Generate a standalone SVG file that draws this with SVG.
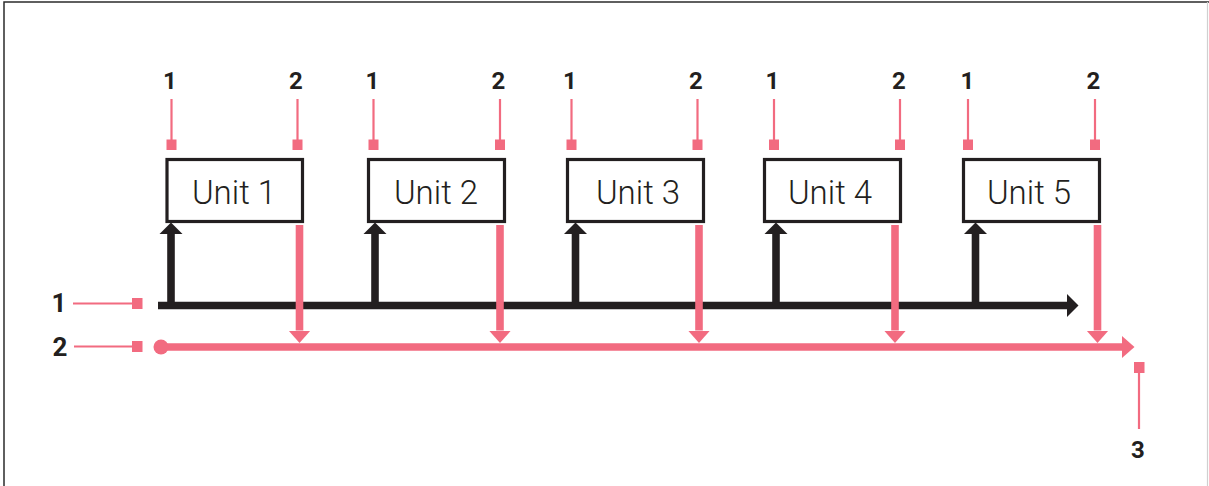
<svg xmlns="http://www.w3.org/2000/svg" width="1209" height="486" viewBox="0 0 1209 486">
<style>
.box{fill:#fff;stroke:#231f20;stroke-width:3.2}
.ut{font-family:Roboto,"Liberation Sans",sans-serif;font-weight:300;font-size:33px;fill:#231f20;text-anchor:middle}
.num{font-family:Roboto,"Liberation Sans",sans-serif;font-weight:700;font-size:24px;fill:#231f20;text-anchor:middle}
.lead{stroke:#f26b80;stroke-width:2.2;fill:none}
.sq{fill:#f26b80}
.blk{stroke:#231f20;stroke-width:7.6;fill:none}
.pk{stroke:#f26b80;stroke-width:7.6;fill:none}
.frame{stroke:#2b2b2b;stroke-width:1.5;fill:none}
</style>
<defs>
<marker id="ab" markerUnits="userSpaceOnUse" markerWidth="12" markerHeight="24" viewBox="0 0 12 24" refX="0" refY="12" orient="auto"><path d="M0,0.5 L11.5,12 L0,23.5 Z" fill="#231f20"/></marker>
<marker id="ap" markerUnits="userSpaceOnUse" markerWidth="13" markerHeight="24" viewBox="0 0 13 24" refX="0" refY="12" orient="auto"><path d="M0,1 L12.5,12 L0,23 Z" fill="#f26b80"/></marker>
</defs>
<g id="frame">
<path class="frame" d="M4,486 V2 H1209"/>
<path d="M1207.5,2 V486" stroke="#d0d0d0" stroke-width="1.2"/>
</g>
<g id="connectors">
<line class="blk" x1="158" y1="305.5" x2="1067" y2="305.5" marker-end="url(#ab)"/>
<line class="blk" x1="171" y1="305" x2="171" y2="234" marker-end="url(#ab)"/>
<line class="blk" x1="375" y1="305" x2="375" y2="234" marker-end="url(#ab)"/>
<line class="blk" x1="575.5" y1="305" x2="575.5" y2="234" marker-end="url(#ab)"/>
<line class="blk" x1="776" y1="305" x2="776" y2="234" marker-end="url(#ab)"/>
<line class="blk" x1="975.5" y1="305" x2="975.5" y2="234" marker-end="url(#ab)"/>
<line class="pk" x1="161" y1="347" x2="1122" y2="347" marker-end="url(#ap)"/>
<circle cx="161" cy="347" r="7.5" fill="#f26b80"/>
<line class="pk" x1="299.5" y1="225" x2="299.5" y2="330.5" marker-end="url(#ap)"/>
<line class="pk" x1="500" y1="225" x2="500" y2="330.5" marker-end="url(#ap)"/>
<line class="pk" x1="699" y1="225" x2="699" y2="330.5" marker-end="url(#ap)"/>
<line class="pk" x1="895" y1="225" x2="895" y2="330.5" marker-end="url(#ap)"/>
<line class="pk" x1="1097.5" y1="225" x2="1097.5" y2="330.5" marker-end="url(#ap)"/>
</g>
<g id="unit1">
<rect class="box" x="167" y="159.5" width="135.5" height="62"/>
<text class="ut" x="234" y="204">Unit 1</text>
</g>
<g id="unit2">
<rect class="box" x="368.5" y="159.5" width="136" height="62"/>
<text class="ut" x="436" y="204">Unit 2</text>
</g>
<g id="unit3">
<rect class="box" x="567.5" y="159.5" width="136" height="62"/>
<text class="ut" x="638" y="204">Unit 3</text>
</g>
<g id="unit4">
<rect class="box" x="764.5" y="159.5" width="136" height="62"/>
<text class="ut" x="830" y="204">Unit 4</text>
</g>
<g id="unit5">
<rect class="box" x="963.5" y="159.5" width="136" height="62"/>
<text class="ut" x="1029" y="204">Unit 5</text>
</g>
<g id="callouts">
<g id="top-callouts">
<text class="num" x="170" y="89">1</text>
<line class="lead" x1="171.5" y1="99" x2="171.5" y2="140"/><rect class="sq" x="166.5" y="139.5" width="10" height="10.5"/>
<text class="num" x="296" y="89">2</text>
<line class="lead" x1="297.5" y1="99" x2="297.5" y2="140"/><rect class="sq" x="292.5" y="139.5" width="10" height="10.5"/>
<text class="num" x="372.5" y="89">1</text>
<line class="lead" x1="373.5" y1="99" x2="373.5" y2="140"/><rect class="sq" x="368.5" y="139.5" width="10" height="10.5"/>
<text class="num" x="498.5" y="89">2</text>
<line class="lead" x1="500" y1="99" x2="500" y2="140"/><rect class="sq" x="495" y="139.5" width="10" height="10.5"/>
<text class="num" x="570" y="89">1</text>
<line class="lead" x1="571.5" y1="99" x2="571.5" y2="140"/><rect class="sq" x="566.5" y="139.5" width="10" height="10.5"/>
<text class="num" x="696" y="89">2</text>
<line class="lead" x1="697.5" y1="99" x2="697.5" y2="140"/><rect class="sq" x="692.5" y="139.5" width="10" height="10.5"/>
<text class="num" x="772.5" y="89">1</text>
<line class="lead" x1="774" y1="99" x2="774" y2="140"/><rect class="sq" x="769" y="139.5" width="10" height="10.5"/>
<text class="num" x="899" y="89">2</text>
<line class="lead" x1="900" y1="99" x2="900" y2="140"/><rect class="sq" x="895" y="139.5" width="10" height="10.5"/>
<text class="num" x="967.5" y="89">1</text>
<line class="lead" x1="968" y1="99" x2="968" y2="140"/><rect class="sq" x="963" y="139.5" width="10" height="10.5"/>
<text class="num" x="1093.5" y="89">2</text>
<line class="lead" x1="1095" y1="99" x2="1095" y2="140"/><rect class="sq" x="1090" y="139.5" width="10" height="10.5"/>
</g>
<g id="left-callouts">
<text class="num" x="59" y="312" style="font-size:26px">1</text>
<line class="lead" x1="73" y1="303.5" x2="133" y2="303.5"/><rect class="sq" x="132" y="298" width="10.5" height="11"/>
<text class="num" x="60" y="356" style="font-size:26px">2</text>
<line class="lead" x1="74" y1="346.5" x2="133" y2="346.5"/><rect class="sq" x="132" y="341" width="10.5" height="11"/>
</g>
<g id="bottom-callout">
<rect class="sq" x="1134" y="362" width="10.5" height="11"/>
<line class="lead" x1="1139" y1="372" x2="1139" y2="429"/>
<text class="num" x="1138" y="458">3</text>
</g>
</g>
</svg>
